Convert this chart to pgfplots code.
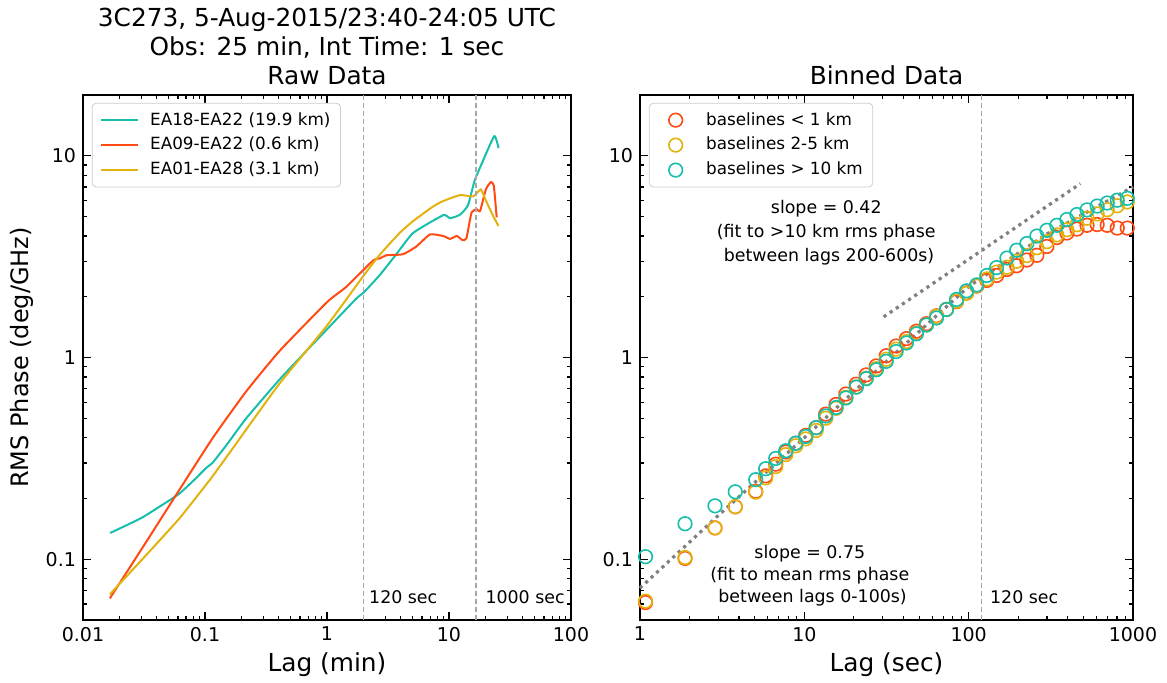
\documentclass[border=0pt]{standalone}
\usepackage{fontspec}
\setmainfont{DejaVu Sans}
\usepackage{pgfplots}
\pgfplotsset{compat=1.18}

\definecolor{cteal}{HTML}{17BFAB}
\definecolor{cred}{HTML}{FF4A14}
\definecolor{cgold}{HTML}{E2B20E}
\definecolor{vgray}{HTML}{A8A8A8}
\definecolor{fgray}{HTML}{808080}

\pgfplotsset{
  mypanel/.style={
    scale only axis, height=262.5pt,
    ymin=0.05, ymax=20,
    log ticks with fixed point,
    /pgf/number format/1000 sep={},
    /pgf/number format/assume math mode=true,
    tick align=inside, major tick length=4pt, minor tick length=2pt,
    axis line style={line width=0.75pt},
    every tick/.style={black, line width=0.6pt},
    tick label style={font=\fontsize{9.5}{11}\selectfont},
    every axis x label/.style={at={(rel axis cs:0.5,0)}, yshift=-22.5pt, anchor=center, font=\fontsize{12.4}{14}\selectfont},
    every axis y label/.style={at={(rel axis cs:0,0.5)}, xshift=-30.5pt, rotate=90, anchor=center, font=\fontsize{12}{14}\selectfont},
    legend cell align=left,
    legend style={font=\fontsize{8.4}{10}\selectfont, draw=black!20, rounded corners=2pt,
      at={(0.018,0.985)}, anchor=north west, row sep=0.6pt, inner xsep=3pt, inner ysep=2.5pt},
    legend image code/.code={\draw[mark repeat=2,mark phase=2,##1] plot coordinates {(0pt,0pt) (9pt,0pt) (18pt,0pt)}; \path (-1pt,0pt) (22pt,0pt);},
    clip=false,
  },
  myvline/.style={vgray, line width=0.75pt, dash pattern=on 2.5pt off 1.5pt, forget plot},
  myfit/.style={fgray, line width=1.6pt, dash pattern=on 1.6pt off 2.1pt, forget plot},
  mybin/.style={only marks, mark=o, mark size=3.4pt, mark options={line width=0.8pt}},
}

\begin{document}
\begin{tikzpicture}
\useasboundingbox (-41.5pt,-31.5pt) rectangle (542pt,310pt);

% left panel: raw data
\begin{loglogaxis}[mypanel, at={(0,0)}, anchor=south west, width=244pt,
  xmin=0.01, xmax=100,
  xlabel={Lag (min)}, ylabel={RMS Phase (deg/GHz)}]
\addplot[cteal, line width=1pt, smooth, tension=0.3] table {
0.0167 0.135
0.03 0.16
0.0498 0.194
0.062 0.212
0.082 0.248
0.102 0.283
0.116 0.302
0.15 0.368
0.218 0.50
0.41 0.78
0.68 1.08
1.0 1.38
1.74 1.96
2.0 2.1
2.72 2.57
3.7 3.25
5.1 4.15
8.97 5.07
10.2 4.9
12.3 5.1
14.3 5.68
16.2 7.5
18.5 9.1
23.5 12.5
25.5 10.9
};
\addlegendentry{EA18-EA22 (19.9 km)}
\addplot[cred, line width=1pt, smooth, tension=0.3] table {
0.0166 0.064
0.033 0.122
0.062 0.222
0.116 0.40
0.218 0.68
0.41 1.08
1.0 1.88
1.44 2.24
2.38 3.02
2.72 3.1
3.06 3.21
4.2 3.25
5.4 3.55
6.98 4.07
8.97 4.0
10.2 3.87
11.6 4.0
12.9 3.82
13.9 3.9
15.3 5.23
16.9 5.43
18.0 5.33
20.1 6.84
22.1 7.4
23.3 7.1
24.6 4.95
};
\addlegendentry{EA09-EA22 (0.6 km)}
\addplot[cgold, line width=1pt, smooth, tension=0.3] table {
0.0166 0.067
0.033 0.105
0.062 0.16
0.116 0.259
0.218 0.44
0.41 0.745
1.0 1.44
2.0 2.55
2.72 3.24
3.95 4.15
5.1 4.75
7.4 5.6
8.9 5.95
12.3 6.38
15.8 6.29
18.2 6.8
20.1 5.98
23.1 5.0
25.5 4.48
};
\addlegendentry{EA01-EA28 (3.1 km)}
\addplot[myvline] coordinates {(2,0.05) (2,20)};
\addplot[myvline] coordinates {(16.67,0.05) (16.67,20)};
\node[anchor=base west, font=\fontsize{8.7}{10}\selectfont, xshift=-0.8pt, yshift=8pt] at (axis cs:2,0.05) {120 sec};
\node[anchor=base west, font=\fontsize{8.7}{10}\selectfont, xshift=1.2pt, yshift=8pt] at (axis cs:16.67,0.05) {1000 sec};
\node[anchor=base, font=\fontsize{12.4}{14}\selectfont, yshift=34pt] at (rel axis cs:0.5,1) {3C273, 5-Aug-2015/23:40-24:05 UTC};
\node[anchor=base, font=\fontsize{12.4}{14}\selectfont, yshift=19.5pt] at (rel axis cs:0.5,1) {Obs: 25 min, Int Time: 1 sec};
\node[anchor=base, font=\fontsize{12.4}{14}\selectfont, yshift=5pt] at (rel axis cs:0.5,1) {Raw Data};
\end{loglogaxis}

% right panel: binned data
\begin{loglogaxis}[mypanel, at={(278.5pt,0)}, anchor=south west, width=246.5pt,
  xmin=1, xmax=1000,
  xlabel={Lag (sec)}]
\addplot[mybin, cred] table {
1.08 0.061
1.88 0.101
2.86 0.143
3.8 0.182
5.06 0.217
5.82 0.259
6.70 0.296
7.71 0.34
8.87 0.376
10.2 0.411
11.8 0.449
13.5 0.524
15.6 0.585
17.9 0.659
20.7 0.738
23.8 0.82
27.4 0.908
31.5 1.02
36.2 1.14
41.8 1.24
48.1 1.35
55.3 1.47
63.7 1.61
73.3 1.73
84.3 1.89
97.1 2.09
112 2.26
129 2.41
148 2.55
171 2.73
196 2.85
226 3.04
260 3.21
299 3.55
344 3.93
396 4.14
456 4.33
525 4.52
605 4.56
697 4.52
802 4.38
923 4.38
};
\addlegendentry{baselines < 1 km}
\addplot[mybin, cgold] table {
1.08 0.062
1.88 0.102
2.86 0.143
3.8 0.182
5.06 0.215
5.82 0.253
6.70 0.288
7.71 0.33
8.87 0.365
10.2 0.395
11.8 0.435
13.5 0.50
15.6 0.56
17.9 0.635
20.7 0.715
23.8 0.79
27.4 0.88
31.5 0.98
36.2 1.10
41.8 1.20
48.1 1.32
55.3 1.45
63.7 1.60
73.3 1.73
84.3 1.90
97.1 2.08
112 2.27
129 2.45
148 2.65
171 2.80
196 3.0
226 3.2
260 3.5
299 3.75
344 4.05
396 4.3
456 4.55
525 4.9
605 5.15
697 5.4
802 5.65
923 5.9
};
\addlegendentry{baselines 2-5 km}
\addplot[mybin, cteal] table {
1.08 0.103
1.88 0.150
2.86 0.184
3.8 0.216
5.06 0.248
5.82 0.281
6.70 0.316
7.71 0.345
8.87 0.376
10.2 0.406
11.8 0.449
13.5 0.513
15.6 0.565
17.9 0.63
20.7 0.713
23.8 0.785
27.4 0.869
31.5 0.957
36.2 1.07
41.8 1.18
48.1 1.31
55.3 1.45
63.7 1.57
73.3 1.73
84.3 1.94
97.1 2.14
112 2.29
129 2.55
148 2.79
171 3.11
196 3.40
226 3.67
260 4.0
299 4.27
344 4.52
396 4.83
456 5.11
525 5.39
605 5.63
697 5.83
802 6.02
923 6.15
};
\addlegendentry{baselines > 10 km}
\addplot[myfit] coordinates {(1,0.072) (3,0.165) (10,0.4) (30,0.92) (100,2.25) (300,4.1) (1000,7.0)};
\addplot[myfit] coordinates {(30.4,1.59) (478,7.27)};
\addplot[myvline] coordinates {(120,0.05) (120,20)};
\node[anchor=base west, font=\fontsize{8.7}{10}\selectfont, xshift=0.7pt, yshift=8pt] at (axis cs:120,0.05) {120 sec};
\node[align=center, font=\fontsize{8.7}{12}\selectfont] at (axis cs:13.6,4.17) {slope = 0.42\\(fit to >10 km rms phase\\ \ between lags 200-600s)};
\node[align=center, font=\fontsize{8.7}{11}\selectfont] at (axis cs:10.8,0.083) {slope = 0.75\\(fit to mean rms phase\\ \ between lags 0-100s)};
\node[anchor=base, font=\fontsize{12.4}{14}\selectfont, yshift=5pt] at (rel axis cs:0.5,1) {Binned Data};
\end{loglogaxis}
\end{tikzpicture}
\end{document}
